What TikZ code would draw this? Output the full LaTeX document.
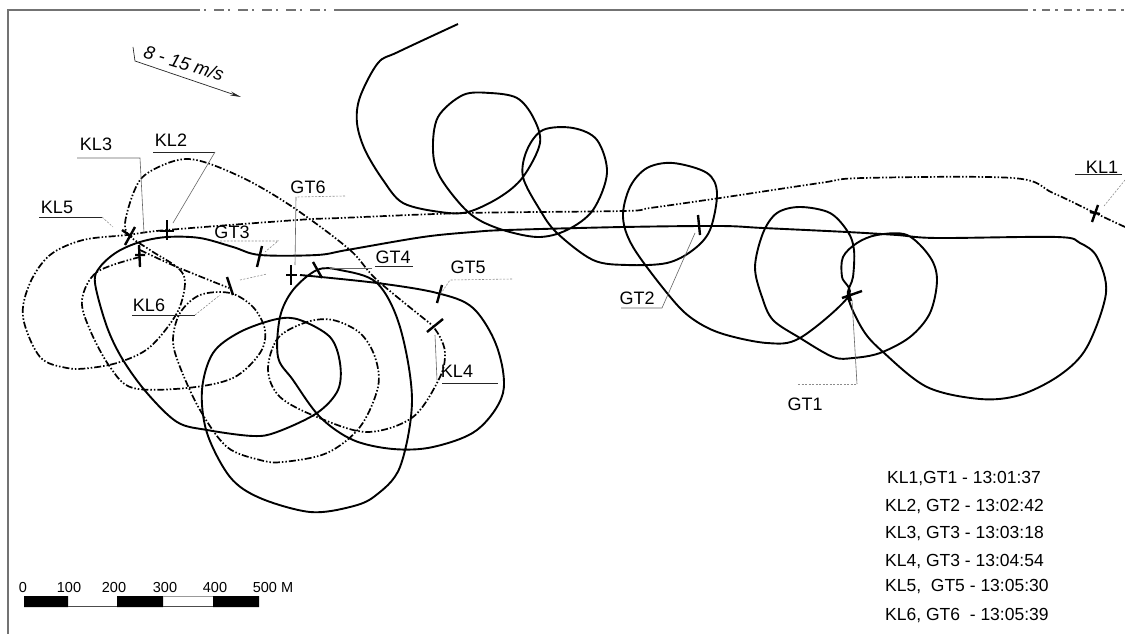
\documentclass[tikz,border=0pt]{standalone}
\usepackage{fontspec}
\setmainfont{Liberation Sans}
\usetikzlibrary{arrows.meta}
\tikzset{
  gtpath/.style={line width=1.9pt,black,line join=round},
  klpath/.style={line width=1.7pt,black,dash pattern=on 7pt off 2pt on 1.5pt off 2pt on 1.5pt off 2pt},
  leader/.style={line width=0.6pt,black!60},
  faint/.style={line width=0.6pt,black!45,dash pattern=on 2pt off 1.5pt},
  under/.style={line width=1pt,black!85},
  tick/.style={line width=2.4pt,black},
  lbl/.style={inner sep=0pt,font=\fontsize{18}{20}\selectfont},
  tbl/.style={inner sep=0pt,anchor=west,font=\fontsize{17.5}{20}\selectfont},
  scl/.style={inner sep=0pt,font=\fontsize{14.5}{16}\selectfont},
  frameline/.style={line width=1.2pt,black!55}
}
\begin{document}
\begin{tikzpicture}[x=1pt,y=-1pt]
\useasboundingbox (0,0) rectangle (1125,634);
\fill[white] (0,0) rectangle (1125,634);
% frame
\draw[frameline] (8,634) -- (8,10) -- (190,10);
\draw[frameline,dash pattern=on 10pt off 4pt on 2pt off 8pt] (190,10) -- (340,10);
\draw[frameline] (340,10) -- (1020,10);
\draw[frameline,dash pattern=on 8pt off 5pt on 3pt off 6pt] (1020,10) -- (1125,10);
% solid track
\draw[gtpath] plot[smooth,tension=0.55] coordinates {
(458,24) (398,52) (378,63) (360,97) (357,123) (365,150) (383,180) (403,203) (440,212) (468,212)
(500,197) (523,177) (540,143) (533,117) (517,98) (490,93) (463,95) (438,117) (433,150) (440,177) (468,212)
(497,228) (537,237) (567,230) (593,210) (607,173) (597,140) (573,128) (543,130) (527,150) (523,177)
(540,210) (557,233) (593,260) (627,265) (667,263) (693,250) (710,230) (717,193) (707,173) (673,163)
(647,168) (630,187) (623,217) (633,247) (667,293) (690,317) (720,333) (767,343) (800,338) (848,297)
(842,277) (843,257) (857,243) (877,235) (907,235) (930,257) (937,280) (930,313) (910,337) (880,353)
(853,358) (833,357) (800,338) (773,320) (762,297) (755,267) (763,233) (777,213) (800,207) (830,213)
(848,232) (854,250) (853,277) (848,297) (863,330) (883,352) (927,387) (980,399) (1020,395) (1060,375)
(1087,347) (1106,293) (1097,257) (1080,243) (1057,237) (937,238) (897,235) (847,232) (763,228) (720,226)
(623,227) (507,230) (473,232) (423,237) (347,250) (317,255) (260,255) (233,247) (200,238) (167,237)
(140,242) (117,252) (100,267) (95,283) (107,327) (123,360) (147,393) (177,422) (207,430) (253,436)
(277,432) (317,413) (338,390) (340,363) (330,337) (300,320) (277,319) (240,332) (213,353) (202,390)
(207,433) (230,477) (260,498) (310,512) (350,507) (375,496) (400,467) (412,400) (400,327) (377,283)
(340,270) (317,270) (293,290) (280,317) (278,357) (293,380) (320,417) (353,440) (393,449) (433,447)
(477,430) (503,393) (497,347) (473,308) (437,293) (377,283) (300,275)};
% dash-dot track
\draw[klpath] plot[smooth,tension=0.55] coordinates {
(1125,227) (1095,213) (1053,193) (1013,178) (863,178) (820,183) (720,198) (650,208)
(623,211) (467,213) (340,218) (297,220) (167,230) (127,235) (83,240) (50,255) (30,283) (23,317)
(40,357) (67,368) (90,368) (120,362) (150,347) (177,313) (185,283) (178,268) (150,250) (127,233)
(127,213) (140,180) (163,165) (187,159) (213,165) (253,183) (297,210) (350,250) (377,280) (432,325)};
\draw[klpath] plot[smooth,tension=0.55] coordinates {
(140,250) (177,267) (229,288)};
\draw[klpath] plot[smooth,tension=0.55] coordinates {
(140,257) (97,272) (82,300) (90,330) (110,367) (133,388) (187,388) (233,378) (260,353) (265,330)
(253,307) (230,293) (200,295) (180,313) (173,340) (180,367) (200,410) (227,447) (260,460) (283,462)
(327,453) (360,427) (378,387) (375,357) (360,333) (333,320) (307,322) (278,338) (268,370) (280,397)
(317,417) (367,432) (413,417) (440,377) (445,353) (440,337) (432,325)};
% position marks
\draw[tick] (1092,222) -- (1098,205) (1090,212) -- (1100,214);
\draw[tick] (842,298) -- (862,291) (848,291) -- (851,301);
\draw[tick] (698,215) -- (700,235);
\draw[tick] (257,267) -- (262,246);
\draw[tick] (313,262) -- (322,278);
\draw[tick] (437,303) -- (442,285);
\draw[tick] (291,265) -- (291,285) (286,275) -- (297,275);
\draw[tick] (167,220) -- (167,240) (160,231) -- (174,231);
\draw[tick] (139,245) -- (140,267) (135,255) -- (145,255);
\draw[tick] (427,332) -- (443,319);
\draw[tick] (125,245) -- (135,227) (122,230) -- (132,237);
\draw[tick] (227,277) -- (233,295);
% labels
\node[lbl] (kl1) at (1102,167) {KL1};
\node[lbl] (kl2) at (171,140) {KL2};
\node[lbl] (kl3) at (96,144) {KL3};
\node[lbl] (kl4) at (457,371) {KL4};
\node[lbl] (kl5) at (57,207) {KL5};
\node[lbl] (kl6) at (149,305) {KL6};
\node[lbl] (gt1) at (805,404) {GT1};
\node[lbl] (gt2) at (637,298) {GT2};
\node[lbl] (gt3) at (232,232) {GT3};
\node[lbl] (gt4) at (393,257) {GT4};
\node[lbl] (gt5) at (468,267) {GT5};
\node[lbl] (gt6) at (308,187) {GT6};
% leader ends
\coordinate (e1) at (1104,206); \coordinate (e2) at (173,223); \coordinate (e3) at (144,233);
\coordinate (e4) at (435,335);  \coordinate (e5) at (113,227); \coordinate (e6) at (220,295);
\coordinate (f1) at (852,300);  \coordinate (f2) at (695,233); \coordinate (f3) at (265,252);
\coordinate (f4) at (330,268);  \coordinate (f5) at (440,295); \coordinate (f6) at (295,265);
% leaders
\draw[under] (1075,174) -- (1122,174);
\draw[faint] (1125,180) -- (e1);
\draw[under] (153,152) -- (215,152); \draw[leader] (215,152) -- (e2);
\draw[leader] (77,158) -- (140,158) -- (e3);
\draw[under] (442,383) -- (498,383); \draw[leader] (437,380) -- (e4);
\draw[under] (39,217) -- (102,217); \draw[faint] (102,217) -- (e5);
\draw[under] (132,315) -- (195,315); \draw[faint] (195,315) -- (e6);
\draw[faint] (240,280) -- (267,274);
\draw[faint] (798,384) -- (857,384); \draw[leader] (857,384) -- (f1);
\draw[leader] (621,308) -- (662,308) -- (f2);
\draw[faint] (220,241) -- (278,241) -- (f3);
\draw[under] (375,266) -- (413,266); \draw[leader] (372,268) -- (f4);
\draw[faint] (512,279) -- (450,280) -- (f5);
\draw[faint] (345,196) -- (296,197); \draw[leader] (296,197) -- (f6);
% wind arrow
\coordinate (w0) at (133,47); \coordinate (w1) at (135,61); \coordinate (w2) at (241,97);
\draw[line width=0.7pt,black!85,-{Stealth[length=11pt,width=4pt]}] (w0) -- (w1) -- (w2);
\node[inner sep=0pt,rotate=-17,font=\fontsize{18.5}{20}\selectfont\itshape] (wind) at (184,63) {8 - 15 m/s};
% table
\node[tbl] (t1) at (887,479) {KL1,GT1 - 13:01:37};
\node[tbl] (t2) at (885,507) {KL2, GT2 - 13:02:42};
\node[tbl] (t3) at (885,534) {KL3, GT3 - 13:03:18};
\node[tbl] (t4) at (885,562) {KL4, GT3 - 13:04:54};
\node[tbl] (t5) at (885,587) {KL5,\ \ GT5 - 13:05:30};
\node[tbl] (t6) at (885,616) {KL6, GT6\ \ - 13:05:39};
% scale bar
\fill[black] (24,596) rectangle (68,607) (117,596) rectangle (163,607) (213,596) rectangle (259,607);
\draw[line width=0.6pt,black!70] (68,606.5) -- (117,606.5) (163,606.5) -- (213,606.5);
\draw[line width=0.4pt,black!40] (163,596.5) -- (213,596.5);
\node[scl] (s0) at (23,588) {0};
\node[scl] (s1) at (69,588) {100};
\node[scl] (s2) at (114,588) {200};
\node[scl] (s3) at (165,588) {300};
\node[scl] (s4) at (215,588) {400};
\node[scl] (s5) at (273,588) {500 M};
\end{tikzpicture}
\end{document}
